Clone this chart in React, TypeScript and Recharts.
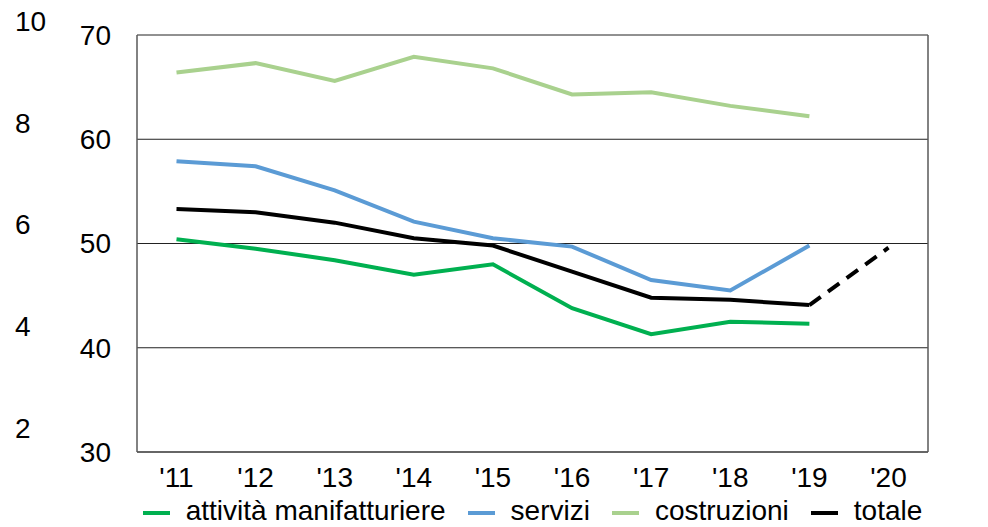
import { LineChart, Line, XAxis, YAxis, CartesianGrid, Legend } from "recharts";

const years = ["'11", "'12", "'13", "'14", "'15", "'16", "'17", "'18", "'19", "'20"];

const manifatturiere = [50.4, 49.5, 48.4, 47.0, 48.0, 43.8, 41.3, 42.5, 42.3, null];
const servizi = [57.9, 57.4, 55.1, 52.1, 50.5, 49.7, 46.5, 45.5, 49.8, null];
const costruzioni = [66.4, 67.3, 65.6, 67.9, 66.8, 64.3, 64.5, 63.2, 62.2, null];
const totale = [53.3, 53.0, 52.0, 50.5, 49.8, 47.3, 44.8, 44.6, 44.1, null];
// dashed projection '19 -> '20
const totaleProiezione = [null, null, null, null, null, null, null, null, 44.1, 49.6];

const mainTicks = [30, 40, 50, 60, 70];
const outerTicks = [2, 4, 6, 8, 10];

const data = years.map((year, i) => ({
  year,
  manifatturiere: manifatturiere[i],
  servizi: servizi[i],
  costruzioni: costruzioni[i],
  totale: totale[i],
  proiezione: totaleProiezione[i],
}));

const FONT = "'Liberation Sans', Arial, sans-serif";
const tickStyle = { fill: "#000", fontSize: 28, fontFamily: FONT };
const frame = { stroke: "#595959", strokeWidth: 1.5 };

const legendItems = [
  { label: "attività manifatturiere", color: "#00B050" },
  { label: "servizi", color: "#5B9BD5" },
  { label: "costruzioni", color: "#A9D18E" },
  { label: "totale", color: "#000000" },
];

const renderLegend = () => (
  <div
    style={{
      display: "flex",
      justifyContent: "center",
      alignItems: "center",
      height: 32,
      paddingLeft: 77,
      fontFamily: FONT,
      fontSize: 28,
      lineHeight: "32px",
      color: "#000",
    }}
  >
    {legendItems.map((item, i) => (
      <div
        key={item.label}
        style={{ display: "flex", alignItems: "center", marginLeft: i === 0 ? 0 : 22 }}
      >
        <span
          style={{
            display: "inline-block",
            width: 27,
            height: 4,
            background: item.color,
            marginRight: 16,
            position: "relative",
            top: 2,
          }}
        />
        <span style={{ whiteSpace: "nowrap" }}>{item.label}</span>
      </div>
    ))}
  </div>
);

export default function App() {
  return (
    <div style={{ position: "absolute", left: 0, top: 0, background: "#fff" }}>
      <LineChart
        width={988}
        height={527}
        data={data}
        margin={{ top: 35, right: 0, bottom: 0, left: 0 }}
      >
        <CartesianGrid vertical={false} stroke="#222" strokeWidth={1} yAxisId="left" />
        <XAxis
          dataKey="year"
          height={43}
          padding={{ left: 39.5, right: 39.5 }}
          tickLine={false}
          tickSize={0}
          tickMargin={15}
          axisLine={frame}
          tick={tickStyle}
          interval={0}
        />
        <YAxis
          yAxisId="left"
          width={77}
          domain={[30, 70]}
          ticks={mainTicks}
          interval={0}
          tickLine={false}
          tickSize={0}
          tickMargin={26}
          axisLine={frame}
          tick={tickStyle}
        />
        <YAxis
          yAxisId="outer"
          width={60}
          domain={[1.528, 9.725]}
          allowDataOverflow
          ticks={outerTicks}
          interval={0}
          tickLine={false}
          axisLine={false}
          tickSize={0}
          tickMargin={45}
          tick={{ ...tickStyle, textAnchor: "start" }}
        />
        <YAxis
          yAxisId="right"
          orientation="right"
          width={60}
          domain={[30, 70]}
          ticks={mainTicks}
          interval={0}
          tickLine={false}
          tickSize={0}
          tickMargin={24}
          axisLine={frame}
          tick={tickStyle}
        />
        <Legend verticalAlign="bottom" height={32} content={renderLegend} />
        <Line
          yAxisId="left"
          dataKey="manifatturiere"
          stroke="#00B050"
          strokeWidth={4}
          dot={false}
          isAnimationActive={false}
        />
        <Line
          yAxisId="left"
          dataKey="servizi"
          stroke="#5B9BD5"
          strokeWidth={4}
          dot={false}
          isAnimationActive={false}
        />
        <Line
          yAxisId="left"
          dataKey="costruzioni"
          stroke="#A9D18E"
          strokeWidth={4}
          dot={false}
          isAnimationActive={false}
        />
        <Line
          yAxisId="left"
          dataKey="totale"
          stroke="#000"
          strokeWidth={4}
          dot={false}
          isAnimationActive={false}
        />
        <Line
          yAxisId="left"
          dataKey="proiezione"
          stroke="#000"
          strokeWidth={4}
          strokeDasharray="14 9"
          dot={false}
          legendType="none"
          isAnimationActive={false}
        />
      </LineChart>
    </div>
  );
}
